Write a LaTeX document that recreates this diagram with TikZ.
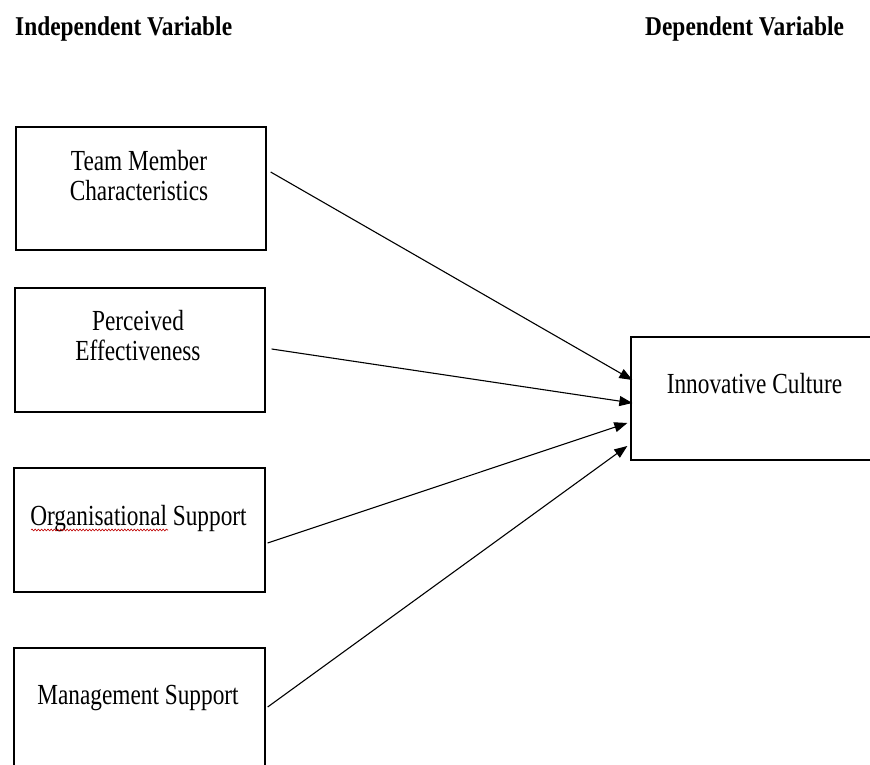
\documentclass[tikz,border=0pt]{standalone}
\usepackage{fontspec}
\setmainfont{Liberation Serif}
\usetikzlibrary{arrows.meta,decorations.pathmorphing}
\newcommand{\vtxt}[1]{\scalebox{1}[1.25]{\begin{tabular}{@{}c@{}}#1\end{tabular}}}
\newcommand{\htxt}[1]{\scalebox{1}[1.16]{\bfseries #1}}
\tikzset{
  box/.style={draw, line width=1.3pt, minimum width=250pt, minimum height=123pt, inner sep=0pt},
  txt/.style={inner sep=0pt, font=\fontsize{23.3}{24}\selectfont},
  head/.style={inner sep=0pt, anchor=base west, font=\fontsize{23.4}{25}\selectfont},
  arr/.style={line width=1.1pt, -{Triangle[length=13pt,width=10pt]}}
}
\begin{document}
\begin{tikzpicture}[x=1pt,y=-1pt]
\useasboundingbox[fill=white] (0,0) rectangle (870,765);
\node[head] (hi) at (15,36) {\htxt{Independent Variable}};
\node[head] (hd) at (645,36) {\htxt{Dependent Variable}};

\node[box] (b1) at (141,188.5) {};
\node[box, minimum height=124pt] (b2) at (140,350) {};
\node[box, minimum width=251pt, minimum height=124pt] (b3) at (139.5,530) {};
\node[box, minimum width=251pt, minimum height=124pt] (b4) at (139.5,710) {};
\node[box] (ic) at (756,398.5) {};

\node[txt] (t1) at (139,179.5) {\vtxt{Team Member\\Characteristics}};
\node[txt] (t2) at (138,339) {\vtxt{Perceived\\Effectiveness}};
\node[txt] (t3) at (138.5,519.5) {\vtxt{Organisational Support}};
\node[txt] (t4) at (138,698) {\vtxt{Management Support}};
\node[txt] (t5) at (754.5,387.5) {\vtxt{Innovative Culture}};

\draw[red!75!black, line width=0.6pt, decorate, decoration={snake, amplitude=0.9pt, segment length=3.2pt}] (31,530) -- (168,530);

\draw[arr] ([shift={(4,-16.5)}]b1.east) -- ([shift={(2,-18.5)}]ic.west);
\draw[arr] ([shift={(6,-1)}]b2.east) -- ([shift={(2,4.5)}]ic.west);
\draw[arr] ([shift={(2,13)}]b3.east) -- ([shift={(-3,24.5)}]ic.west);
\draw[arr] ([shift={(2,-3)}]b4.east) -- ([shift={(-3,47.5)}]ic.west);
\end{tikzpicture}
\end{document}
